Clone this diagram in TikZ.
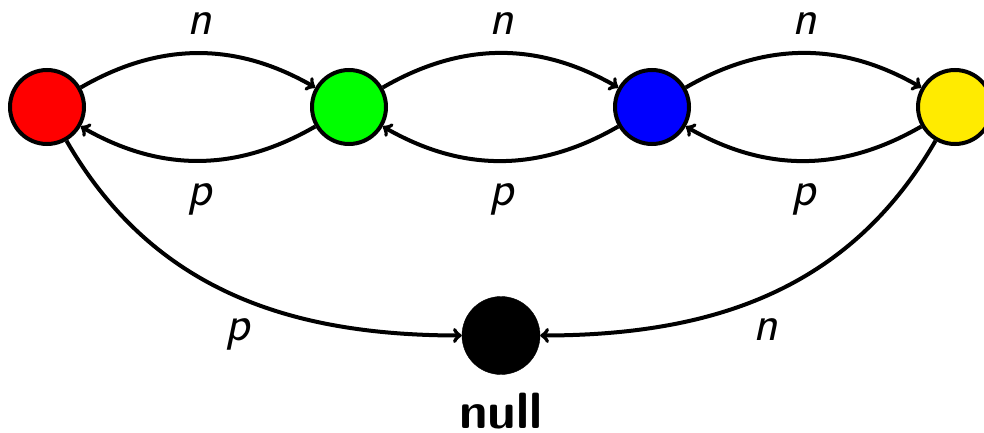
\documentclass[tikz,border=0pt]{standalone}
\usepackage{fontspec}
\definecolor{yel}{RGB}{255,235,0}
\begin{document}
\begin{tikzpicture}[x=1pt,y=1pt,
  state/.style={circle,draw=black,line width=4pt,minimum size=74pt,inner sep=0pt},
  conn/.style={line width=4pt,->},
  lab/.style={font=\fontsize{50}{60}\selectfont\sffamily\itshape,anchor=base,inner sep=0pt}]
\useasboundingbox (0,0) rectangle (984,432);
\node[state,fill=red] (r) at (47,325) {};
\node[state,fill=green] (g) at (349,325) {};
\node[state,fill=blue] (b) at (652,325) {};
\node[state,fill=yel] (y) at (955,325) {};
\node[circle,fill=black,draw=black,minimum size=78pt,inner sep=0pt] (k) at (501,96.5) {};
\node[anchor=base,inner sep=0pt,font=\fontsize{51}{60}\selectfont\sffamily\bfseries] (nl) at (501,4) {null};
\draw[conn] (r) to[bend left=30] (g);
\draw[conn] (g) to[bend left=30] (r);
\draw[conn] (g) to[bend left=30] (b);
\draw[conn] (b) to[bend left=30] (g);
\draw[conn] (b) to[bend left=30] (y);
\draw[conn] (y) to[bend left=30] (b);
\draw[conn] (r) to[out=-60,in=180] (k);
\draw[conn] (y) to[out=-120,in=0] (k);
\node[lab] (n1) at (200,397) {n};
\node[lab] (n2) at (502,397) {n};
\node[lab] (n3) at (805,397) {n};
\node[lab] (p1) at (200,227) {p};
\node[lab] (p2) at (502,227) {p};
\node[lab] (p3) at (804,227) {p};
\node[lab] (p4) at (238,92) {p};
\node[lab] (n4) at (766,92) {n};
\end{tikzpicture}
\end{document}
